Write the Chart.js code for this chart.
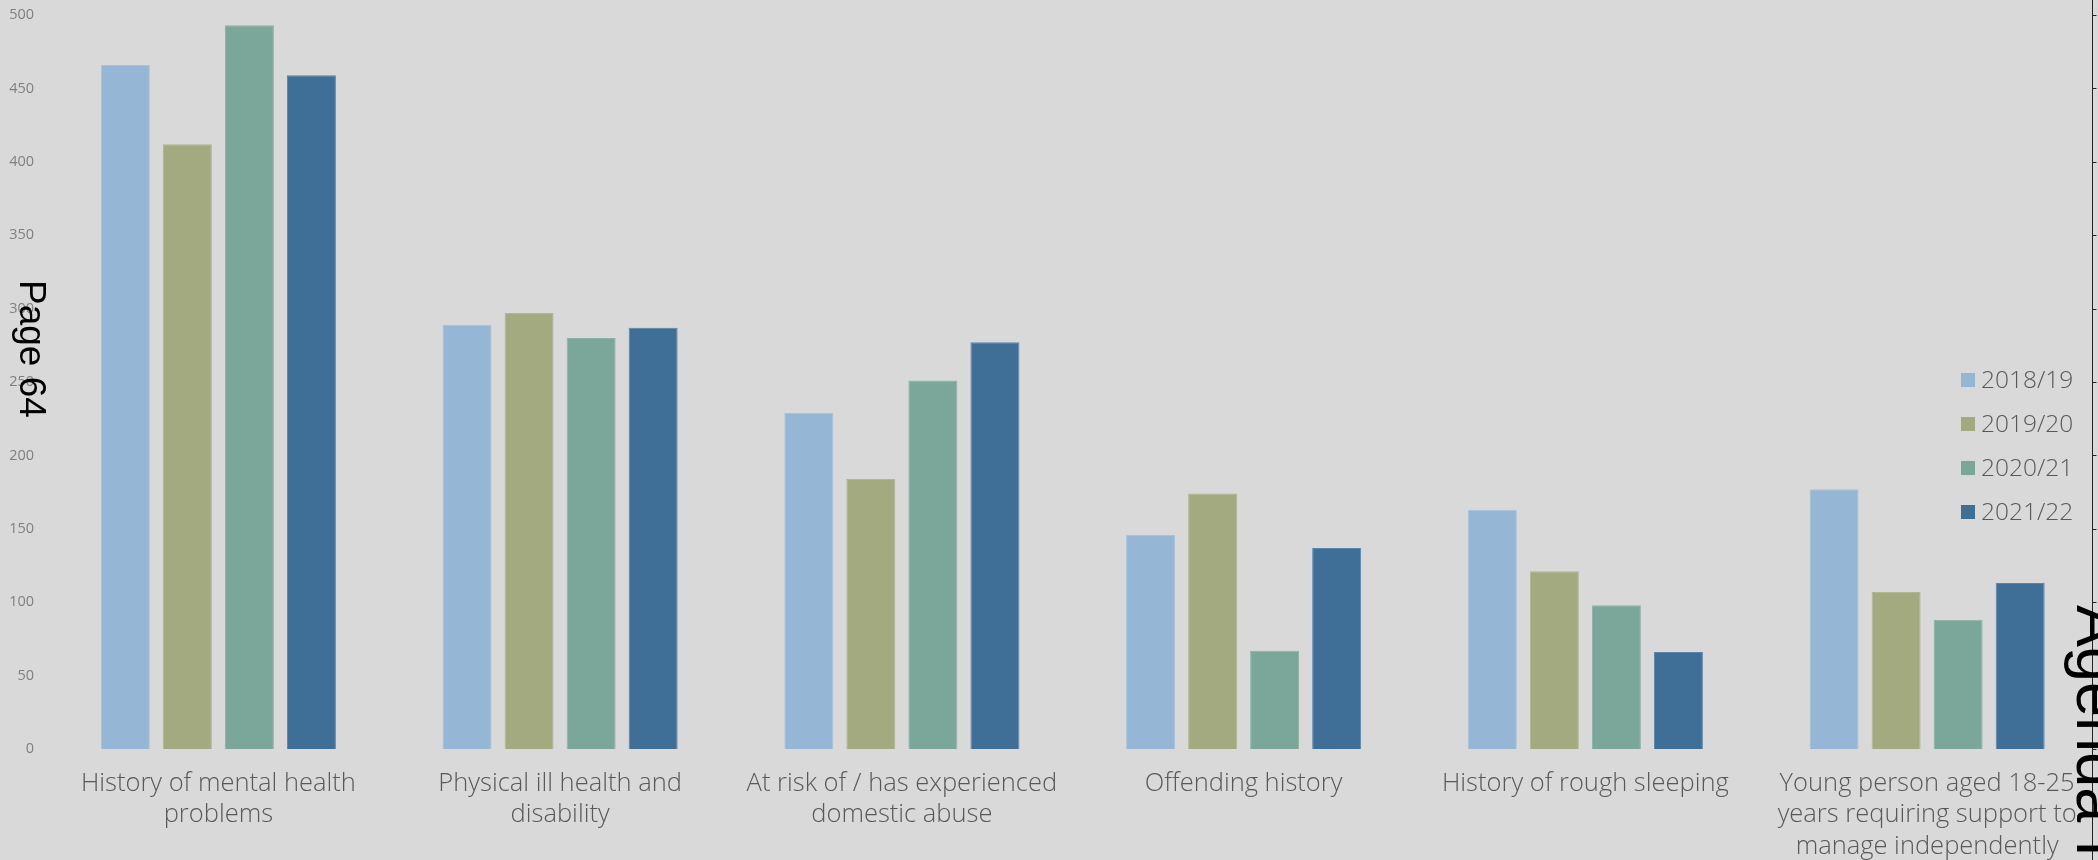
<!DOCTYPE html>
<html>
<head>
<meta charset="utf-8">
<script src="https://cdn.jsdelivr.net/npm/chart.js@4.4.0/dist/chart.umd.min.js"></script>
<style>
    html, body { margin: 0; padding: 0; background: #d9d9d9; overflow: hidden; }
    #marco { position: relative; width: 2098px; height: 860px; overflow: hidden; }
    canvas { display: block; }
    .sello {
        position: absolute;
        font-family: "Liberation Sans", Arial, sans-serif;
        color: #000;
        white-space: nowrap;
        line-height: 1.15;
        transform-origin: 0 0;
        transform: rotate(90deg);
    }
</style>
</head>
<body>
<div id="marco">
    <canvas id="perfilesChart" width="2098" height="860"></canvas>
    <div class="sello" style="left:53px; top:280px; font-size:37px;">Page 64</div>
    <div class="sello" style="left:2135px; top:605px; font-size:63px;">Agenda Item</div>
</div>
<script>
// categorias eje X (una linea por elemento)
const categorias = [
    ["History of mental health", "problems"],
    ["Physical ill health and", "disability"],
    ["At risk of / has experienced", "domestic abuse"],
    "Offending history",
    "History of rough sleeping",
    ["Young person aged 18-25", "years requiring support to", "manage independently"]
];

// series por año
const periodos = ["2018/19", "2019/20", "2020/21", "2021/22"];
const valores1819 = [466, 289, 229, 146, 163, 177];
const valores1920 = [412, 297, 184, 174, 121, 107];
const valores2021 = [493, 280, 251, 67, 98, 88];
const valores2122 = [459, 287, 277, 137, 66, 113];

// marcas eje Y
const marcasY = [0, 50, 100, 150, 200, 250, 300, 350, 400, 450, 500];

const colores = ["#95b6d4", "#a3aa80", "#7ba79b", "#3f6f97"];
const bordes = ["#a6c2dc", "#b0b692", "#8ab2a7", "#5a84a8"];

// leyenda dentro del area y linea vertical derecha
const extrasPagina = {
    id: "extrasPagina",
    afterDraw(chart) {
        const ctx = chart.ctx;
        const area = chart.chartArea;
        const escalaY = chart.scales.y;

        ctx.save();
        ctx.font = "300 24.5px 'Open Sans'";
        ctx.textAlign = "left";
        ctx.textBaseline = "middle";
        chart.data.datasets.forEach((ds, i) => {
            const y = area.top + 365 + i * 44;
            ctx.fillStyle = ds.backgroundColor;
            ctx.fillRect(area.right - 137, y - 7, 14, 14);
            ctx.fillStyle = "#595959";
            ctx.fillText(ds.label, area.right - 117, y + 1);
        });

        const x = chart.width - 5.5;
        ctx.strokeStyle = "#222";
        ctx.lineWidth = 1;
        ctx.beginPath();
        ctx.moveTo(x, 0);
        ctx.lineTo(x, chart.height);
        marcasY.forEach(v => {
            const yy = Math.round(escalaY.getPixelForValue(v)) + 0.5;
            ctx.moveTo(x, yy);
            ctx.lineTo(x + 4, yy);
        });
        ctx.stroke();
        ctx.restore();
    }
};

const series = [valores1819, valores1920, valores2021, valores2122];

const ctx = document.getElementById("perfilesChart").getContext("2d");

new Chart(ctx, {
    type: "bar",
    data: {
        labels: categorias,
        datasets: series.map((vals, i) => ({
            label: periodos[i],
            data: vals,
            backgroundColor: colores[i],
            borderColor: bordes[i],
            borderWidth: 1,
            categoryPercentage: 0.726,
            barPercentage: 0.79
        }))
    },
    options: {
        responsive: false,
        animation: false,
        layout: {
            padding: { top: 15, left: 0, right: 0, bottom: 0 }
        },
        plugins: {
            legend: { display: false },
            tooltip: { enabled: false }
        },
        scales: {
            x: {
                grid: { display: false, drawTicks: false },
                border: { display: false },
                ticks: {
                    padding: 18.5,
                    maxRotation: 0,
                    autoSkip: false,
                    color: "#595959",
                    font: { family: "'Open Sans'", size: 25.5, weight: 300, lineHeight: 1.245 }
                },
                afterFit: scale => {
                    scale.height = 111;
                    scale.paddingLeft = 0;
                    scale.paddingRight = 0;
                }
            },
            y: {
                min: 0,
                max: 500,
                grid: { display: false, drawTicks: false },
                border: { display: false },
                afterBuildTicks: scale => {
                    scale.ticks = marcasY.map(v => ({ value: v }));
                },
                ticks: {
                    padding: 13.5,
                    color: "#7f7f7f",
                    font: { family: "'Open Sans'", size: 14.5 }
                },
                afterFit: scale => {
                    scale.width = 47.5;
                    scale.paddingTop = 0;
                    scale.paddingBottom = 0;
                }
            }
        }
    },
    plugins: [extrasPagina]
});
</script>
</body>
</html>
